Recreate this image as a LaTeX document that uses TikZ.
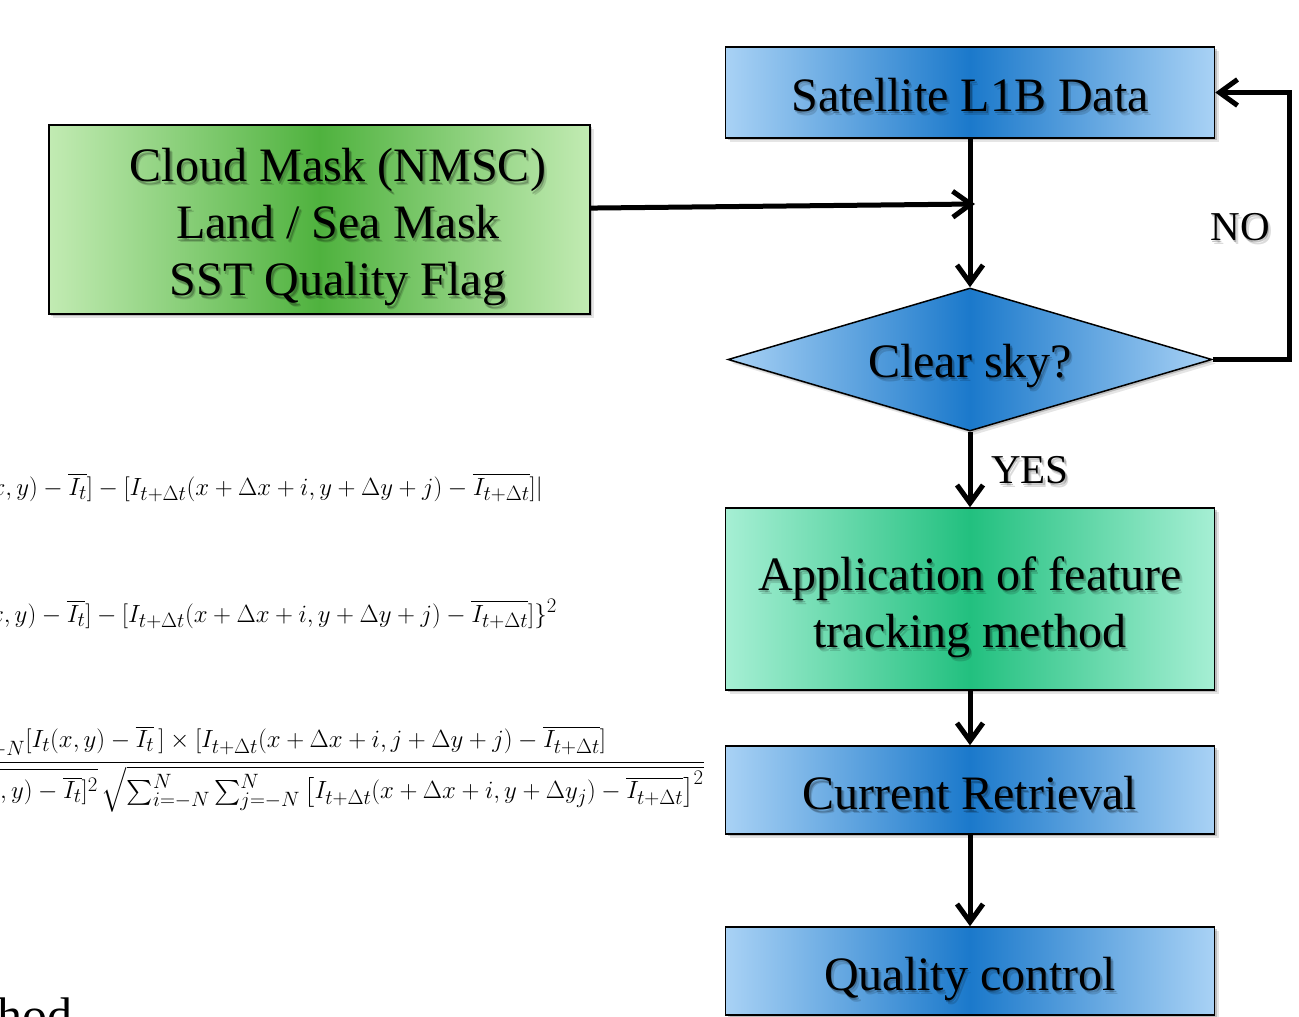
\documentclass[tikz,border=0pt]{standalone}
\usepackage{exscale}
\usepackage{fontspec}
\setmainfont{Liberation Serif}
\usetikzlibrary{arrows.meta,shapes.geometric,shadows,calc}

\definecolor{blight}{HTML}{A9D2F5}
\definecolor{bdark}{HTML}{1B79CB}
\definecolor{glight}{HTML}{C2EBB3}
\definecolor{gdark}{HTML}{4FB23E}
\definecolor{tlight}{HTML}{A6EFD4}
\definecolor{tdark}{HTML}{22C07F}

% a label drawn with a soft dark shadow behind it
\newcommand\labelwithshadow[4]{%
  \node[#3, text opacity=.22] at ($(#2)+(1.5,2.5)$) {#4};
  \node[#3, text opacity=.14] at ($(#2)+(3,4)$) {#4};
  \node[#3] (#1) at (#2) {#4};}

\tikzset{
  boxshadow/.style={
    drop shadow={shadow xshift=2pt, shadow yshift=-2pt, opacity=.18, fill=black},
    drop shadow={shadow xshift=4pt, shadow yshift=-4pt, opacity=.10, fill=black}},
  box/.style={rectangle, draw=black, line width=1.5pt, inner sep=0pt, boxshadow},
  bluebox/.style={box, left color=blight, right color=blight, middle color=bdark},
  greenbox/.style={box, left color=glight, right color=glight, middle color=gdark},
  tealbox/.style={box, left color=tlight, right color=tlight, middle color=tdark},
  decision/.style={diamond, shape aspect=3.4, draw=black, line width=1.5pt,
    inner sep=0pt, boxshadow, left color=blight, right color=blight, middle color=bdark},
  lbl/.style={font=\fontsize{48}{57}\selectfont, align=center, inner sep=0pt},
  tag/.style={font=\fontsize{41}{48}\selectfont, inner sep=0pt},
  formula/.style={font=\fontsize{24.88}{30}\selectfont, inner sep=0pt, anchor=base east},
  flow/.style={line width=5pt, -{Straight Barb[length=18pt, width=26pt]}},
}

\begin{document}
\begin{tikzpicture}[x=1pt, y=-1pt]
\useasboundingbox (0,0) rectangle (1299,1017);
\clip (0,0) rectangle (1299,1017);

% matching criteria
\node[formula] (sad) at (543,495)
  {$\sum_{i=-N}^{N}\sum_{j=-N}^{N}|[I_t(x,y)-\overline{I_t}]-[I_{t+\Delta t}(x+\Delta x+i,y+\Delta y+j)-\overline{I_{t+\Delta t}}]|$};
\node[formula] (ssd) at (557,622)
  {$\sum_{i=-N}^{N}\sum_{j=-N}^{N}\{[I_t(x,y)-\overline{I_t}]-[I_{t+\Delta t}(x+\Delta x+i,y+\Delta y+j)-\overline{I_{t+\Delta t}}]\}^2$};
\node[formula] (ncc) at (705,769)
  {$\displaystyle\frac{\textstyle\sum_{i=-N}^{N}\sum_{j=-N}^{N}[I_t(x,y)-\overline{I_t}\,]\times[I_{t+\Delta t}(x+\Delta x+i,j+\Delta y+j)-\overline{I_{t+\Delta t}}]}
   {\textstyle\sqrt{\sum_{i=-N}^{N}\sum_{j=-N}^{N}[I_t(x,y)-\overline{I_t}]^2}\,\sqrt{\sum_{i=-N}^{N}\sum_{j=-N}^{N}\left[I_{t+\Delta t}(x+\Delta x+i,y+\Delta y_j)-\overline{I_{t+\Delta t}}\right]^2}}$};
\node[font=\fontsize{50}{60}\selectfont, inner sep=0pt, anchor=base east] (mtitle) at (73,1032) {method};

% flowchart shapes
\node[bluebox, minimum width=489pt, minimum height=91pt] (sat) at (970,92.5) {};
\node[greenbox, minimum width=541pt, minimum height=189pt] (cloud) at (319.5,219.5) {};
\node[decision, minimum width=484pt, minimum height=143pt] (clear) at (970,359.5) {};
\node[tealbox, minimum width=489pt, minimum height=182pt] (app) at (970,599) {};
\node[bluebox, minimum width=489pt, minimum height=88pt] (ret) at (970,790) {};
\node[bluebox, minimum width=489pt, minimum height=88pt] (qc) at (970,971) {};

% labels
\labelwithshadow{satT}{970,95}{lbl}{Satellite L1B Data}
\labelwithshadow{cloudT}{338,227.5}{lbl}{Cloud Mask (NMSC)\\Land / Sea Mask\\SST Quality Flag}
\labelwithshadow{clearT}{970,366}{lbl}{Clear sky?}
\labelwithshadow{appT}{970,607}{lbl}{Application of feature\\tracking method}
\labelwithshadow{retT}{970,793.5}{lbl}{Current Retrieval}
\labelwithshadow{qcT}{970,979}{lbl}{Quality control}
\labelwithshadow{noT}{1240,227}{tag}{NO}
\labelwithshadow{yesT}{1030,470}{tag}{YES}

% connectors
\coordinate (join) at (975,204);
\coordinate (loop) at (1289,359.5);
\draw[flow] (sat.south) -- (clear.north);
\draw[flow] ($(cloud.north east)!0.44!(cloud.south east)$) -- (join);
\draw[flow] (clear.east) -- (loop) |- (sat.east);
\draw[flow] (clear.south) -- (app.north);
\draw[flow] (app.south) -- (ret.north);
\draw[flow] (ret.south) -- (qc.north);
\end{tikzpicture}
\end{document}
